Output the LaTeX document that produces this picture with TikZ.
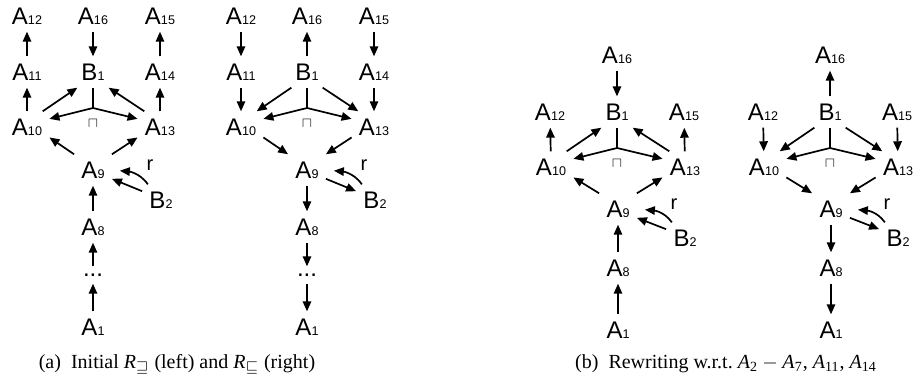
\documentclass[tikz,border=0pt]{standalone}
\usepackage{fontspec}
\setmainfont{Liberation Serif}
\newfontfamily\nodefont{Liberation Sans}
\usetikzlibrary{arrows.meta}
\newcommand{\nsub}[1]{{\fontsize{6.3}{7}\selectfont#1}}
\tikzset{
  elem/.style={font=\nodefont\fontsize{12}{14}\selectfont, inner sep=3.5pt},
  arr/.style={line width=0.85pt, -{Triangle[length=5pt, width=4.2pt]}},
  link/.style={line width=0.85pt},
  meet/.style={font=\fontsize{7}{7}\selectfont, inner sep=0pt, text=black!85},
  rlab/.style={font=\nodefont\fontsize{10}{10}\selectfont, inner sep=0pt},
  capt/.style={font=\fontsize{10}{12}\selectfont, anchor=base}
}
% name/x/y/label on a pixel grid (y counted downwards)
\def\layoutA{A12/27/16/{A\nsub{12}}, A16/93/16/{A\nsub{16}}, A15/160/16/{A\nsub{15}},
  A11/27/72/{A\nsub{11}}, B1/93/72/{B\nsub{1}}, A14/160/72/{A\nsub{14}},
  A10/27/127/{A\nsub{10}}, A13/160/127/{A\nsub{13}}, A9/93/170/{A\nsub{9}},
  B2/161/200/{B\nsub{2}}, A8/93/227/{A\nsub{8}}, dots/93/275/{...}, A1/93/327/{A\nsub{1}}}
\def\layoutB{A16/617/55/{A\nsub{16}}, A12/550/112/{A\nsub{12}}, B1/617/112/{B\nsub{1}},
  A15/684/112/{A\nsub{15}}, A10/551/167/{A\nsub{10}}, A13/685/167/{A\nsub{13}},
  A9/618/209/{A\nsub{9}}, B2/685/238/{B\nsub{2}}, A8/618/268/{A\nsub{8}}, A1/618/330/{A\nsub{1}}}

\begin{document}
\begin{tikzpicture}[x=0.5pt, y=0.5pt]
  \useasboundingbox (0,0) rectangle (915,-386);

  %% (a) left: initial R_sqsupseteq
  \begin{scope}[name prefix=aL-]
    \foreach \nm/\x/\y/\txt in \layoutA
      \node[elem] (\nm) at (\x,-\y) {\txt};
    \coordinate (jn) at (93,-108);
    \node[meet] (cap) at (93,-124) {$\sqcap$};
    \node[rlab] (r) at (150,-165) {r};
    \draw[arr] (A11) -- (A12);
    \draw[arr] (A10) -- (A11);
    \draw[arr] (A16) -- (B1);
    \draw[arr] (A14) -- (A15);
    \draw[arr] (A13) -- (A14);
    \draw[arr] (A10.45) -- (B1.225);
    \draw[arr] (A13.135) -- (B1.-45);
    \draw[link] (B1.south) -- (jn);
    \draw[arr] (jn) -- (A10.20);
    \draw[arr] (jn) -- (A13.160);
    \draw[arr] (A9.north west) -- (A10.-25);
    \draw[arr] (A9.north east) -- (A13.-155);
    \draw[arr, shorten >=4pt] (B2.130) to[out=125, in=-5] (A9.east);
    \draw[arr] (B2.155) -- (A9.-25);
    \draw[arr] (A8) -- (A9);
    \draw[arr] (dots) -- (A8);
    \draw[arr] (A1) -- (dots);
  \end{scope}

  %% (a) right: initial R_sqsubseteq
  \begin{scope}[shift={(214,0)}, name prefix=aR-]
    \foreach \nm/\x/\y/\txt in \layoutA
      \node[elem] (\nm) at (\x,-\y) {\txt};
    \coordinate (jn) at (93,-108);
    \node[meet] (cap) at (93,-124) {$\sqcap$};
    \node[rlab] (r) at (150,-165) {r};
    \draw[arr] (A12) -- (A11);
    \draw[arr] (A11) -- (A10);
    \draw[arr] (B1) -- (A16);
    \draw[arr] (A15) -- (A14);
    \draw[arr] (A14) -- (A13);
    \draw[arr] (B1.225) -- (A10.45);
    \draw[arr] (B1.-45) -- (A13.135);
    \draw[link] (B1.south) -- (jn);
    \draw[arr] (jn) -- (A10.20);
    \draw[arr] (jn) -- (A13.160);
    \draw[arr] (A10.-25) -- (A9.north west);
    \draw[arr] (A13.-155) -- (A9.north east);
    \draw[arr] (A9.-25) -- (B2.155);
    \draw[arr, shorten >=4pt] (B2.130) to[out=125, in=-5] (A9.east);
    \draw[arr] (A9) -- (A8);
    \draw[arr] (A8) -- (dots);
    \draw[arr] (dots) -- (A1);
  \end{scope}

  %% (b) left: after rewriting
  \begin{scope}[name prefix=bL-]
    \foreach \nm/\x/\y/\txt in \layoutB
      \node[elem] (\nm) at (\x,-\y) {\txt};
    \coordinate (jn) at (617,-148);
    \node[meet] (cap) at (617,-164) {$\sqcap$};
    \node[rlab] (r) at (674,-204) {r};
    \draw[arr] (A16) -- (B1);
    \draw[arr] (A10) -- (A12);
    \draw[arr] (A13) -- (A15);
    \draw[arr] (A10.45) -- (B1.225);
    \draw[arr] (A13.135) -- (B1.-45);
    \draw[link] (B1.south) -- (jn);
    \draw[arr] (jn) -- (A10.20);
    \draw[arr] (jn) -- (A13.160);
    \draw[arr] (A9.north west) -- (A10.-25);
    \draw[arr] (A9.north east) -- (A13.-155);
    \draw[arr, shorten >=4pt] (B2.130) to[out=125, in=-5] (A9.east);
    \draw[arr] (B2.155) -- (A9.-25);
    \draw[arr] (A8) -- (A9);
    \draw[arr] (A1) -- (A8);
  \end{scope}

  %% (b) right
  \begin{scope}[shift={(213,0)}, name prefix=bR-]
    \foreach \nm/\x/\y/\txt in \layoutB
      \node[elem] (\nm) at (\x,-\y) {\txt};
    \coordinate (jn) at (617,-148);
    \node[meet] (cap) at (617,-164) {$\sqcap$};
    \node[rlab] (r) at (674,-204) {r};
    \draw[arr] (B1) -- (A16);
    \draw[arr] (A12) -- (A10);
    \draw[arr] (A15) -- (A13);
    \draw[arr] (B1.225) -- (A10.45);
    \draw[arr] (B1.-45) -- (A13.135);
    \draw[link] (B1.south) -- (jn);
    \draw[arr] (jn) -- (A10.20);
    \draw[arr] (jn) -- (A13.160);
    \draw[arr] (A10.-25) -- (A9.north west);
    \draw[arr] (A13.-155) -- (A9.north east);
    \draw[arr] (A9.-25) -- (B2.155);
    \draw[arr, shorten >=4pt] (B2.130) to[out=125, in=-5] (A9.east);
    \draw[arr] (A9) -- (A8);
    \draw[arr] (A8) -- (A1);
  \end{scope}

  %% Captions
  \node[capt] (capA) at (177,-368)
    {(a)\ \ Initial \textit{R}$_{\sqsupseteq}$ (left) and \textit{R}$_{\sqsubseteq}$ (right)};
  \node[capt] (capB) at (726,-368)
    {(b)\ \ Rewriting w.r.t.\ \textit{A}\textsubscript{2}${}-{}$\textit{A}\textsubscript{7}, \textit{A}\textsubscript{11}, \textit{A}\textsubscript{14}};

\end{tikzpicture}
\end{document}
